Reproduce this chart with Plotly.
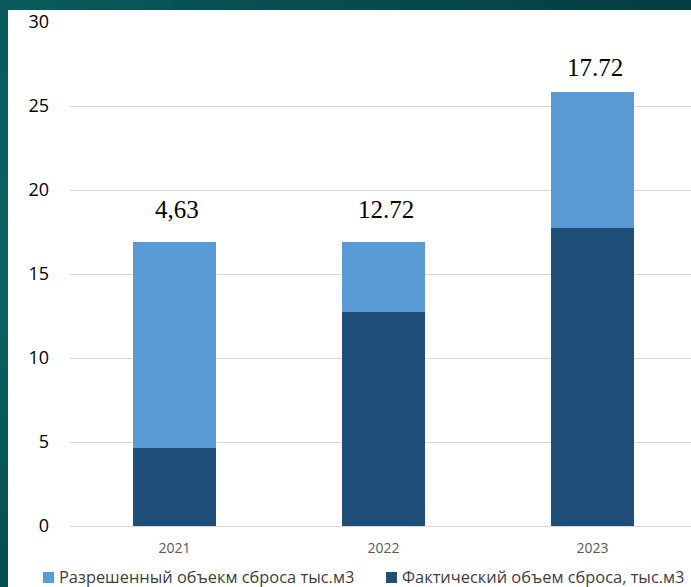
import plotly.graph_objects as go

# Data
years = ["2021", "2022", "2023"]
actual = [4.63, 12.72, 17.72]          # Фактический объем сброса, тыс.м3
permitted_rest = [12.27, 4.18, 8.11]   # Разрешенный объем (часть сверх фактического)
value_labels = ["4,63", "12.72", "17.72"]
series_names = ["Разрешенный объекм сброса тыс.м3", "Фактический объем сброса, тыс.м3"]
y_ticks = [0, 5, 10, 15, 20, 25, 30]

LIGHT = "#5B9BD5"
DARK = "#1F4E79"

W, H = 691, 587
ML, MR, MT, MB = 70, 0, 22, 61
PW, PH = W - ML - MR, H - MT - MB
CAT_PX = 209  # pixel width of one category band


def px_x(px):
    return (px - ML) / PW


def px_y(py):
    return (H - MB - py) / PH


fig = go.Figure()
fig.add_trace(go.Bar(x=years, y=actual, marker_color=DARK, name=series_names[1],
                     marker_line_width=0, width=0.4, showlegend=False))
fig.add_trace(go.Bar(x=years, y=permitted_rest, marker_color=LIGHT, name=series_names[0],
                     marker_line_width=0, width=0.4, showlegend=False))

# value labels above each stack (x given as category index)
label_shift = [33, 33, 25]
for i, lab in enumerate(value_labels):
    fig.add_annotation(x=i, xref="x", yref="y", y=actual[i] + permitted_rest[i], text=lab,
                       showarrow=False, yanchor="middle", xanchor="center",
                       yshift=label_shift[i], xshift=2,
                       font=dict(family="Liberation Serif", size=25, color="#000000"))

shapes = []
# teal frame: top band and left band with a soft gradient
def lerp(c1, c2, t):
    a = [int(c1[i:i + 2], 16) for i in (1, 3, 5)]
    b = [int(c2[i:i + 2], 16) for i in (1, 3, 5)]
    return "#" + "".join(f"{round(a[k] + (b[k] - a[k]) * t):02x}" for k in range(3))

n = 24
for k in range(n):
    x0 = k * W / n
    x1 = (k + 1) * W / n + 1
    shapes.append(dict(type="rect", xref="paper", yref="paper", layer="below",
                       x0=px_x(x0), x1=px_x(x1), y0=px_y(11), y1=px_y(0),
                       fillcolor=lerp("#0A5A5C", "#043D42", k / (n - 1)), line_width=0))
for k in range(n):
    y0 = k * H / n
    y1 = (k + 1) * H / n + 1
    t = k / (n - 1)
    c = lerp("#0A5A5C", "#0B6262", t * 2) if t < 0.5 else lerp("#0B6262", "#064E50", (t - 0.5) * 2)
    shapes.append(dict(type="rect", xref="paper", yref="paper", layer="below",
                       x0=px_x(0), x1=px_x(8), y0=px_y(y1), y1=px_y(y0),
                       fillcolor=c, line_width=0))
# white chart panel
shapes.append(dict(type="rect", xref="paper", yref="paper", layer="below",
                   x0=px_x(8), x1=px_x(W + 2), y0=px_y(H + 2), y1=px_y(10),
                   fillcolor="#FFFFFF", line_width=0))

# legend drawn as swatches + captions
legend_items = [(43, LIGHT, series_names[0]), (386, DARK, series_names[1])]
for sx, col, name in legend_items:
    shapes.append(dict(type="rect", xref="paper", yref="paper",
                       x0=px_x(sx), x1=px_x(sx + 11), y0=px_y(583), y1=px_y(572),
                       fillcolor=col, line_width=0))
    fig.add_annotation(xref="paper", yref="paper", x=px_x(sx + 15), y=px_y(576.5),
                       xanchor="left", yanchor="middle", showarrow=False, text=name,
                       borderpad=0,
                       font=dict(family="Open Sans", size=16.4, color="#404040"))

fig.update_layout(
    width=W, height=H,
    margin=dict(l=ML, r=MR, t=MT, b=MB, pad=0),
    barmode="stack",
    paper_bgcolor="#064F52",
    plot_bgcolor="rgba(0,0,0,0)",
    shapes=shapes,
    showlegend=False,
    xaxis=dict(type="category", range=[-0.5, -0.5 + PW / CAT_PX], showgrid=False,
               showline=False, zeroline=False, ticks="", ticklabelstandoff=12,
               tickfont=dict(family="Open Sans", size=14, color="#595959")),
    yaxis=dict(range=[0, 30], tickvals=y_ticks, showgrid=True, gridcolor="#D9D9D9",
               gridwidth=1, zeroline=True, zerolinecolor="#D9D9D9", zerolinewidth=1,
               showline=False, ticks="", ticklabelstandoff=20,
               tickfont=dict(family="Open Sans", size=18, color="#000000")),
)

fig.write_html("out.html")
